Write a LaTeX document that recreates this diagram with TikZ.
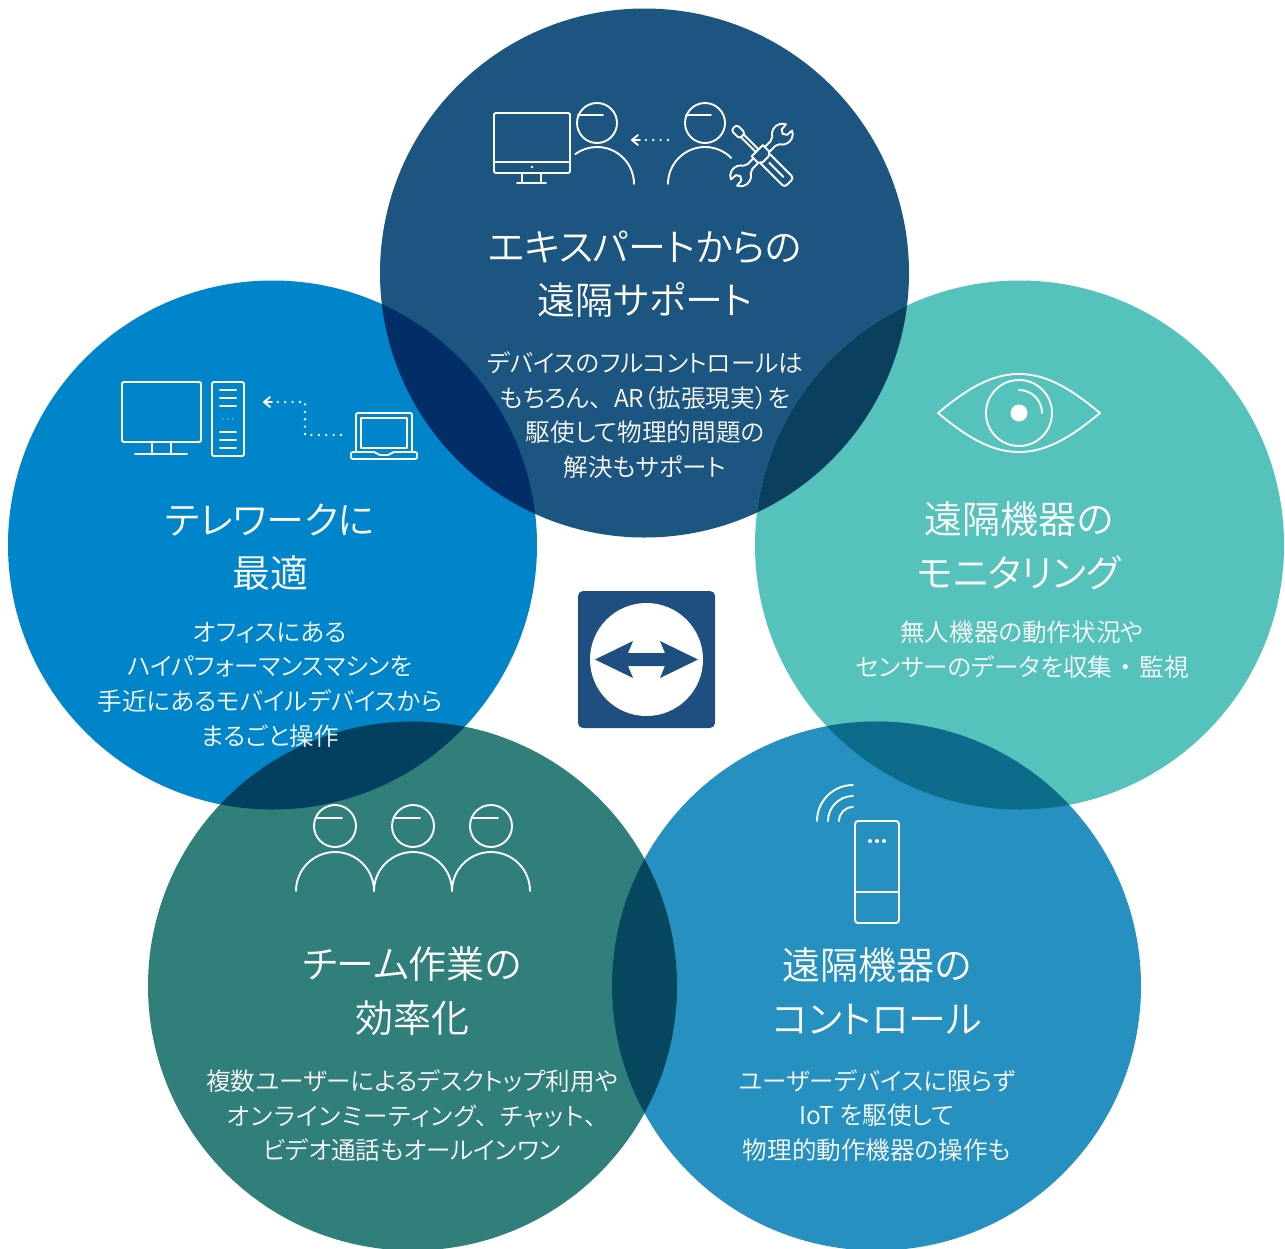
\documentclass[tikz,border=0pt]{standalone}
\usepackage{fontspec}
\newfontfamily\jp[RawFeature={+palt}]{Noto Sans CJK JP DemiLight}
\definecolor{topc}{HTML}{1C5580}
\definecolor{leftc}{HTML}{0085CA}
\definecolor{rightc}{HTML}{55C3BC}
\definecolor{blc}{HTML}{317F7B}
\definecolor{brc}{HTML}{2691C0}
\definecolor{tlc}{HTML}{012E66}
\definecolor{trc}{HTML}{0B3F5E}
\definecolor{lblc}{HTML}{03405F}
\definecolor{rbrc}{HTML}{0C6C8A}
\definecolor{bbc}{HTML}{08485E}
\definecolor{logoc}{HTML}{1F4E81}
\newcommand{\cT}{(644.5,273) circle [radius=264.5pt]}
\newcommand{\cL}{(272.5,545) circle [radius=264.5pt]}
\newcommand{\cR}{(1019.5,545) circle [radius=264.5pt]}
\newcommand{\cA}{(412.5,986) circle [radius=264.5pt]}
\newcommand{\cB}{(876.5,986) circle [radius=264.5pt]}
\newcommand{\jpc}{、\hspace{.5em}}
\newcommand{\jpd}{\hspace{.3em}・\hspace{.3em}}
\tikzset{
  x=1pt,y=-1pt,
  title/.style={text=white,align=center,inner sep=0pt,font=\jp\fontsize{38}{53.5}\selectfont},
  body/.style={text=white,align=center,inner sep=0pt,font=\jp\fontsize{24.6}{34.7}\selectfont},
  ic/.style={draw=white,line width=1.9pt,line cap=round,line join=round},
  dots/.style={draw=white,line width=2.6pt,line cap=round,dash pattern=on 0pt off 7.4pt},
}
\begin{document}
\begin{tikzpicture}
\useasboundingbox (0,0) rectangle (1285,1248);
\fill[white] (0,0) rectangle (1285,1248);
\begin{scope}
\clip (0,0) rectangle (1285,1248);
\fill[topc] \cT;
\fill[leftc] \cL;
\fill[rightc] \cR;
\fill[blc] \cA;
\fill[brc] \cB;
\begin{scope}\clip \cT; \fill[tlc] \cL; \fill[trc] \cR; \end{scope}
\begin{scope}\clip \cL; \fill[lblc] \cA; \end{scope}
\begin{scope}\clip \cR; \fill[rbrc] \cB; \end{scope}
\begin{scope}\clip \cA; \fill[bbc] \cB; \end{scope}
\end{scope}
% logo
\fill[logoc,rounded corners=5pt] (578,591) rectangle (715,728);
\fill[white] (646.5,659.5) circle [radius=56.5pt];
\fill[logoc] (595,659.5)--(633,641)--(628,653)--(665,653)--(660,641)--(698,659.5)--(660,678)--(665,666)--(628,666)--(633,678)--cycle;
% top icons
\draw[ic,rounded corners=2pt] (494,113) rectangle (570,173);
\draw[ic] (494,162)--(570,162);
\fill[white] (532,167) circle [radius=1.3pt];
\draw[ic] (522,173)--(522,183) (541,173)--(541,183) (517,183)--(546,183);
\draw[ic] (597,123) circle [radius=20pt];
\draw[ic] (578,115)--(603,115);
\draw[ic] (634,184) arc [start angle=0,end angle=126,radius=37pt];
\draw[ic] (705,123) circle [radius=20pt];
\draw[ic] (686,115)--(711,115);
\draw[ic] (668,184) arc [start angle=180,end angle=45,radius=37pt];
\coordinate (ta) at (668,140); \coordinate (tb) at (645,140); \coordinate (tc) at (632,140);
\draw[dots] (ta)--(tb);
\draw[ic] ([xshift=6pt,yshift=5pt]tc)--(tc)--([xshift=6pt,yshift=-5pt]tc);
\draw[ic] (tc)--([xshift=8pt]tc);
\begin{scope}[shift={(761.5,155)},rotate=45,scale=.95]
\draw[ic] (21.5,-5.5) arc [start angle=150,end angle=25,radius=11pt]
  --(34,-4)--(31.5,0)--(34,4)--(41,4.6)
  arc [start angle=-25,end angle=-150,radius=11pt]
  --(17,3.5)--(-17,3.5)--(-21.5,5.5)
  arc [start angle=-30,end angle=-155,radius=11pt]
  --(-34,4)--(-31.5,0)--(-34,-4)--(-41,-4.6)
  arc [start angle=155,end angle=30,radius=11pt]
  --(-17,-3.5)--(17,-3.5)--cycle;
\end{scope}
\begin{scope}[shift={(761.5,155)},rotate=-45]
\draw[ic,fill=topc] (-28,-2) rectangle (-6,2);
\draw[ic,fill=topc,rounded corners=3pt] (-39,-4) rectangle (-27,4);
\draw[ic,fill=topc,rounded corners=3pt] (3,-6.5) rectangle (39,6.5);
\draw[ic,fill=topc] (-6,-8)--(3,-8)--(6,-4)--(6,4)--(3,8)--(-6,8)--cycle;
\draw[ic] (11,0)--(31,0);
\end{scope}
% left icons
\draw[ic,rounded corners=2pt] (122,382) rectangle (201,442);
\draw[ic] (152,442)--(152,454) (171,442)--(171,454) (135,454)--(187,454);
\draw[ic,rounded corners=2pt] (212,382) rectangle (244,456);
\draw[ic] (220,390)--(236,390) (220,398)--(236,398) (220,406)--(236,406)
          (220,432)--(236,432) (220,440)--(236,440) (220,448)--(236,448);
\fill[white] (223,419) circle [radius=.7pt] (228,419) circle [radius=.7pt] (233,419) circle [radius=.7pt];
\coordinate (la) at (341,435); \coordinate (lb) at (305,435); \coordinate (lc) at (305,402); \coordinate (ld) at (277,402); \coordinate (le) at (264,402);
\draw[dots] (la)--(lb)--(lc)--(ld);
\draw[ic] ([xshift=6pt,yshift=5pt]le)--(le)--([xshift=6pt,yshift=-5pt]le);
\draw[ic] (le)--([xshift=8pt]le);
\draw[ic,rounded corners=2pt] (356,451)--(356,413)--(412,413)--(412,451);
\draw[ic] (361,418) rectangle (407,448);
\draw[ic,rounded corners=2pt] (351,452)--(376,452)--(378,455)--(390,455)--(392,452)--(417,452)--(417,459)--(351,459)--cycle;
% eye
\draw[ic] (938,413) .. controls (968,388) and (992,374) .. (1019,374) .. controls (1046,374) and (1070,388) .. (1100,413)
  .. controls (1070,438) and (1046,452) .. (1019,452) .. controls (992,452) and (968,438) .. (938,413) -- cycle;
\draw[ic] (1019,413) circle [radius=33pt];
\fill[white] (1019,413) circle [radius=8.5pt];
\draw[ic] (1019,390) arc [start angle=90,end angle=0,radius=23pt];
% team
\foreach \hx in {335,413,491}{
  \draw[ic] (\hx,826) circle [radius=21pt];
  \draw[ic] (\hx-18,818)--(\hx+7,818);
  \draw[ic] (\hx-39,891) arc [start angle=180,end angle=0,radius=39pt];
}
% device
\draw[ic,rounded corners=3pt] (855,821) rectangle (899,923);
\draw[ic] (855,892)--(899,892);
\fill[white] (870,841) circle [radius=2pt] (877,841) circle [radius=2pt] (884,841) circle [radius=2pt];
\draw[ic] (817,821) arc [start angle=180,end angle=90,radius=36pt];
\draw[ic] (828,821) arc [start angle=180,end angle=90,radius=25pt];
\draw[ic] (839,821) arc [start angle=180,end angle=90,radius=14pt];
% text
\node[title] (t1) at (645,274) {エキスパートからの\\遠隔サポート};
\node[body] (b1) at (645,415) {デバイスのフルコントロールは\\もちろん\jpc AR（拡張現実）を\\駆使して物理的問題の\\解決もサポート};
\node[title] (t2) at (270,547) {テレワークに\\最適};
\node[body] (b2) at (270,684.5) {オフィスにある\\ハイパフォーマンスマシンを\\手近にあるモバイルデバイスから\\まるごと操作};
\node[title] (t3) at (1019,546) {遠隔機器の\\モニタリング};
\node[body] (b3) at (1022,649.5) {無人機器の動作状況や\\センサーのデータを収集\jpd 監視};
\node[title] (t4) at (412,991) {チーム作業の\\効率化};
\node[body] (b4) at (412,1115.5) {複数ユーザーによるデスクトップ利用や\\{\addfontfeature{LetterSpace=4.5}オンラインミーティング\jpc チャット\jpc}\\ビデオ通話もオールインワン};
\node[title] (t5) at (877,991) {遠隔機器の\\コントロール};
\node[body] (b5) at (877,1115.5) {ユーザーデバイスに限らず\\IoT を駆使して\\物理的動作機器の操作も};
\end{tikzpicture}
\end{document}
